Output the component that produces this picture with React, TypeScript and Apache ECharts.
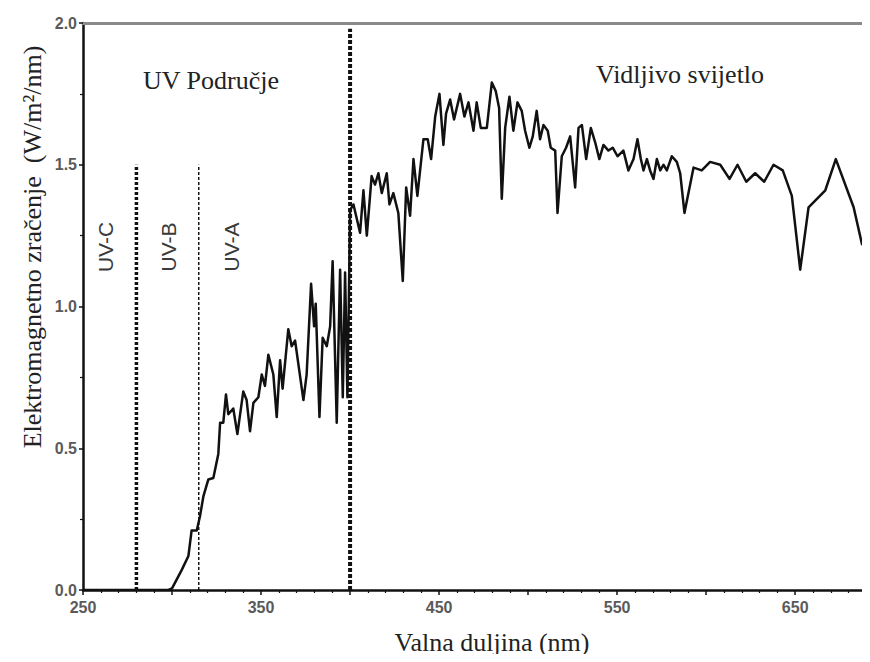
import React, { useEffect, useRef } from "react";
import * as echarts from "echarts";

const wavelength = [
  250, 298, 300, 305.4, 309.2, 311, 313.9, 315.7, 317.6, 320.4, 323.2, 326, 327, 328.8, 330.3, 331.6,
  334.4, 336.7, 340, 341.9, 343.8, 345.7, 348.5, 350.4, 352.2, 354.1, 356.9, 358.8, 360.7, 362.1,
  365.3, 367.2, 369.1, 373.8, 375.6, 378.1, 379.8, 380.7, 382.8, 384.6, 386.9, 388.8, 390.2, 392.5,
  394.4, 395.9, 397.2, 398.5, 399.3, 400, 401.9, 405.6, 407.5, 409.4, 412.1, 414, 415.9, 417.8,
  420.6, 422.1, 424.3, 427.1, 429.6, 431.5, 433.7, 435.6, 437.8, 441.2, 443.6, 445.5, 447.8, 450.2,
  452.4, 453.9, 456.2, 458.4, 461.8, 464.2, 466.5, 469.3, 471.1, 473.4, 476.8, 479.6, 481.8, 483.7,
  485.2, 487.1, 489.5, 491.7, 494, 496.4, 498.3, 500.7, 502.6, 504.8, 506.7, 508.6, 511, 512.7,
  515.2, 516.5, 518.9, 521.3, 523.6, 526.4, 528.3, 530.2, 532.6, 535.2, 537.6, 540, 542.3, 545.1,
  547.5, 550.2, 553.5, 556.3, 559.2, 561.4, 563.3, 564.8, 566.7, 568.5, 570.4, 572.3, 574.2, 576,
  577.9, 580.7, 583.5, 585.4, 587.8, 592.9, 597.5, 602.2, 607.9, 613.1, 617.6, 622.5, 627.5, 632.6,
  637.8, 643, 648.1, 652.8, 657.5, 666.9, 672.8, 682.8, 687.5, 692,
];

const irradiance = [
  0, 0, 0.006, 0.07, 0.12, 0.21, 0.21, 0.26, 0.33, 0.39, 0.395, 0.48, 0.59, 0.59, 0.69, 0.62,
  0.64, 0.55, 0.7, 0.67, 0.56, 0.66, 0.68, 0.76, 0.72, 0.83, 0.76, 0.61, 0.81, 0.71,
  0.92, 0.86, 0.88, 0.67, 0.76, 1.08, 0.93, 1.01, 0.61, 0.89, 0.86, 0.93, 1.16, 0.59,
  1.13, 0.68, 1.12, 0.68, 1.02, 1.34, 1.36, 1.26, 1.41, 1.25, 1.46, 1.43, 1.47, 1.4,
  1.47, 1.36, 1.4, 1.33, 1.09, 1.42, 1.32, 1.52, 1.39, 1.59, 1.59, 1.52, 1.67, 1.75,
  1.57, 1.68, 1.73, 1.66, 1.75, 1.67, 1.72, 1.62, 1.72, 1.63, 1.63, 1.79, 1.76, 1.7,
  1.38, 1.63, 1.74, 1.62, 1.72, 1.69, 1.62, 1.56, 1.6, 1.69, 1.59, 1.64, 1.62, 1.56,
  1.55, 1.33, 1.53, 1.56, 1.6, 1.42, 1.63, 1.64, 1.52, 1.63, 1.58, 1.52, 1.57, 1.55,
  1.56, 1.53, 1.55, 1.48, 1.52, 1.59, 1.52, 1.48, 1.52, 1.48, 1.45, 1.52, 1.48, 1.5,
  1.48, 1.53, 1.51, 1.47, 1.33, 1.49, 1.48, 1.51, 1.5, 1.45, 1.5, 1.44, 1.47, 1.44,
  1.5, 1.48, 1.39, 1.13, 1.35, 1.41, 1.52, 1.35, 1.22, 1.28,
];

const uvBoundaries = [280, 315];
const uvBoundaryTop = 1.5;
const visibleBoundary = 400;
const visibleBoundaryTop = 1.98;
const bandLabels = ["UV-C", "UV-B", "UV-A"];
const yTicks = [0, 0.5, 1.0, 1.5, 2.0];
const xLabelValues = [250, 350, 450, 550, 650];
const xTitle = "Valna duljina (nm)";
const yTitle = "Elektromagnetno zračenje  (W/m²/nm)";
const uvTitle = "UV Područje";
const visTitle = "Vidljivo svijetlo";

export default function App() {
  const ref = useRef<HTMLDivElement>(null);
  useEffect(() => {
    if (!ref.current) return;
    const chart = echarts.init(ref.current, undefined, { renderer: "svg" });
    const serif = "'Liberation Serif', 'Times New Roman', serif";
    const sans = "'Liberation Sans', Arial, sans-serif";
    const data = wavelength.map((w, i) => [w, irradiance[i]]);
    const tickLabelStyle = {
      fontFamily: sans,
      fontSize: 16,
      fontWeight: "bold" as const,
      color: "#5a5a5a",
    };
    chart.setOption({
      animation: false,
      backgroundColor: "#ffffff",
      grid: { left: 83, right: 0, top: 23, bottom: 72, containLabel: false },
      xAxis: [
        {
          type: "value",
          min: 250,
          max: 692,
          interval: 50,
          axisLine: { lineStyle: { color: "#111", width: 2.5 } },
          axisTick: { show: true, length: 5, lineStyle: { color: "#111", width: 1.5 } },
          minorTick: { show: true, splitNumber: 5, length: 3, lineStyle: { color: "#111", width: 1.2 } },
          splitLine: { show: false },
          axisLabel: {
            ...tickLabelStyle,
            margin: 9,
            showMaxLabel: false,
            formatter: (v: number) => (xLabelValues.includes(v) ? String(v) : ""),
          },
        },
        {
          type: "value",
          position: "top",
          min: 250,
          max: 692,
          axisLine: { show: true, lineStyle: { color: "#8a8a8a", width: 3 } },
          axisTick: { show: false },
          axisLabel: { show: false },
          splitLine: { show: false },
        },
      ],
      yAxis: {
        type: "value",
        min: 0,
        max: 2,
        interval: 0.5,
        axisLine: { show: true, lineStyle: { color: "#111", width: 2.5 } },
        axisTick: { show: true, length: 4, lineStyle: { color: "#111", width: 1.5 } },
        minorTick: { show: true, splitNumber: 2, length: 3, lineStyle: { color: "#111", width: 1.2 } },
        splitLine: { show: false },
        axisLabel: {
          ...tickLabelStyle,
          margin: 6,
          formatter: (v: number) => (yTicks.includes(v) ? v.toFixed(1) : ""),
        },
      },
      series: [
        {
          type: "line",
          data,
          showSymbol: false,
          symbol: "none",
          lineStyle: { color: "#111", width: 2.5, join: "round" },
          z: 3,
        },
        {
          type: "line",
          data: [
            [uvBoundaries[0], 0],
            [uvBoundaries[0], uvBoundaryTop],
          ],
          symbol: "none",
          lineStyle: { color: "#111", width: 3.5, type: [3, 2] },
          z: 2,
        },
        {
          type: "line",
          data: [
            [uvBoundaries[1], 0],
            [uvBoundaries[1], uvBoundaryTop],
          ],
          symbol: "none",
          lineStyle: { color: "#111", width: 1.5, type: [3, 2] },
          z: 2,
        },
        {
          type: "line",
          data: [
            [visibleBoundary, 0],
            [visibleBoundary, visibleBoundaryTop],
          ],
          symbol: "none",
          lineStyle: { color: "#111", width: 4, type: [4, 2] },
          z: 2,
        },
      ],
      graphic: [
        {
          type: "text",
          x: 211,
          y: 80,
          style: { text: uvTitle, font: `26px ${serif}`, fill: "#222", align: "center", verticalAlign: "middle" },
        },
        {
          type: "text",
          x: 680,
          y: 74,
          style: { text: visTitle, font: `26px ${serif}`, fill: "#222", align: "center", verticalAlign: "middle" },
        },
        {
          type: "text",
          x: 492,
          y: 642,
          style: { text: xTitle, font: `26px ${serif}`, fill: "#222", align: "center", verticalAlign: "middle" },
        },
        {
          type: "text",
          x: 32,
          y: 247,
          rotation: Math.PI / 2,
          style: { text: yTitle, font: `26px ${serif}`, fill: "#222", align: "center", verticalAlign: "middle" },
        },
        ...bandLabels.map((t, i) => ({
          type: "text",
          x: [105, 168, 231][i],
          y: 247,
          rotation: Math.PI / 2,
          style: { text: t, font: `21px ${sans}`, fill: "#3a3a3a", align: "center", verticalAlign: "middle" },
        })),
      ],
    });
    return () => chart.dispose();
  }, []);
  return <div ref={ref} style={{ width: 870, height: 662, margin: -8 }} />;
}
